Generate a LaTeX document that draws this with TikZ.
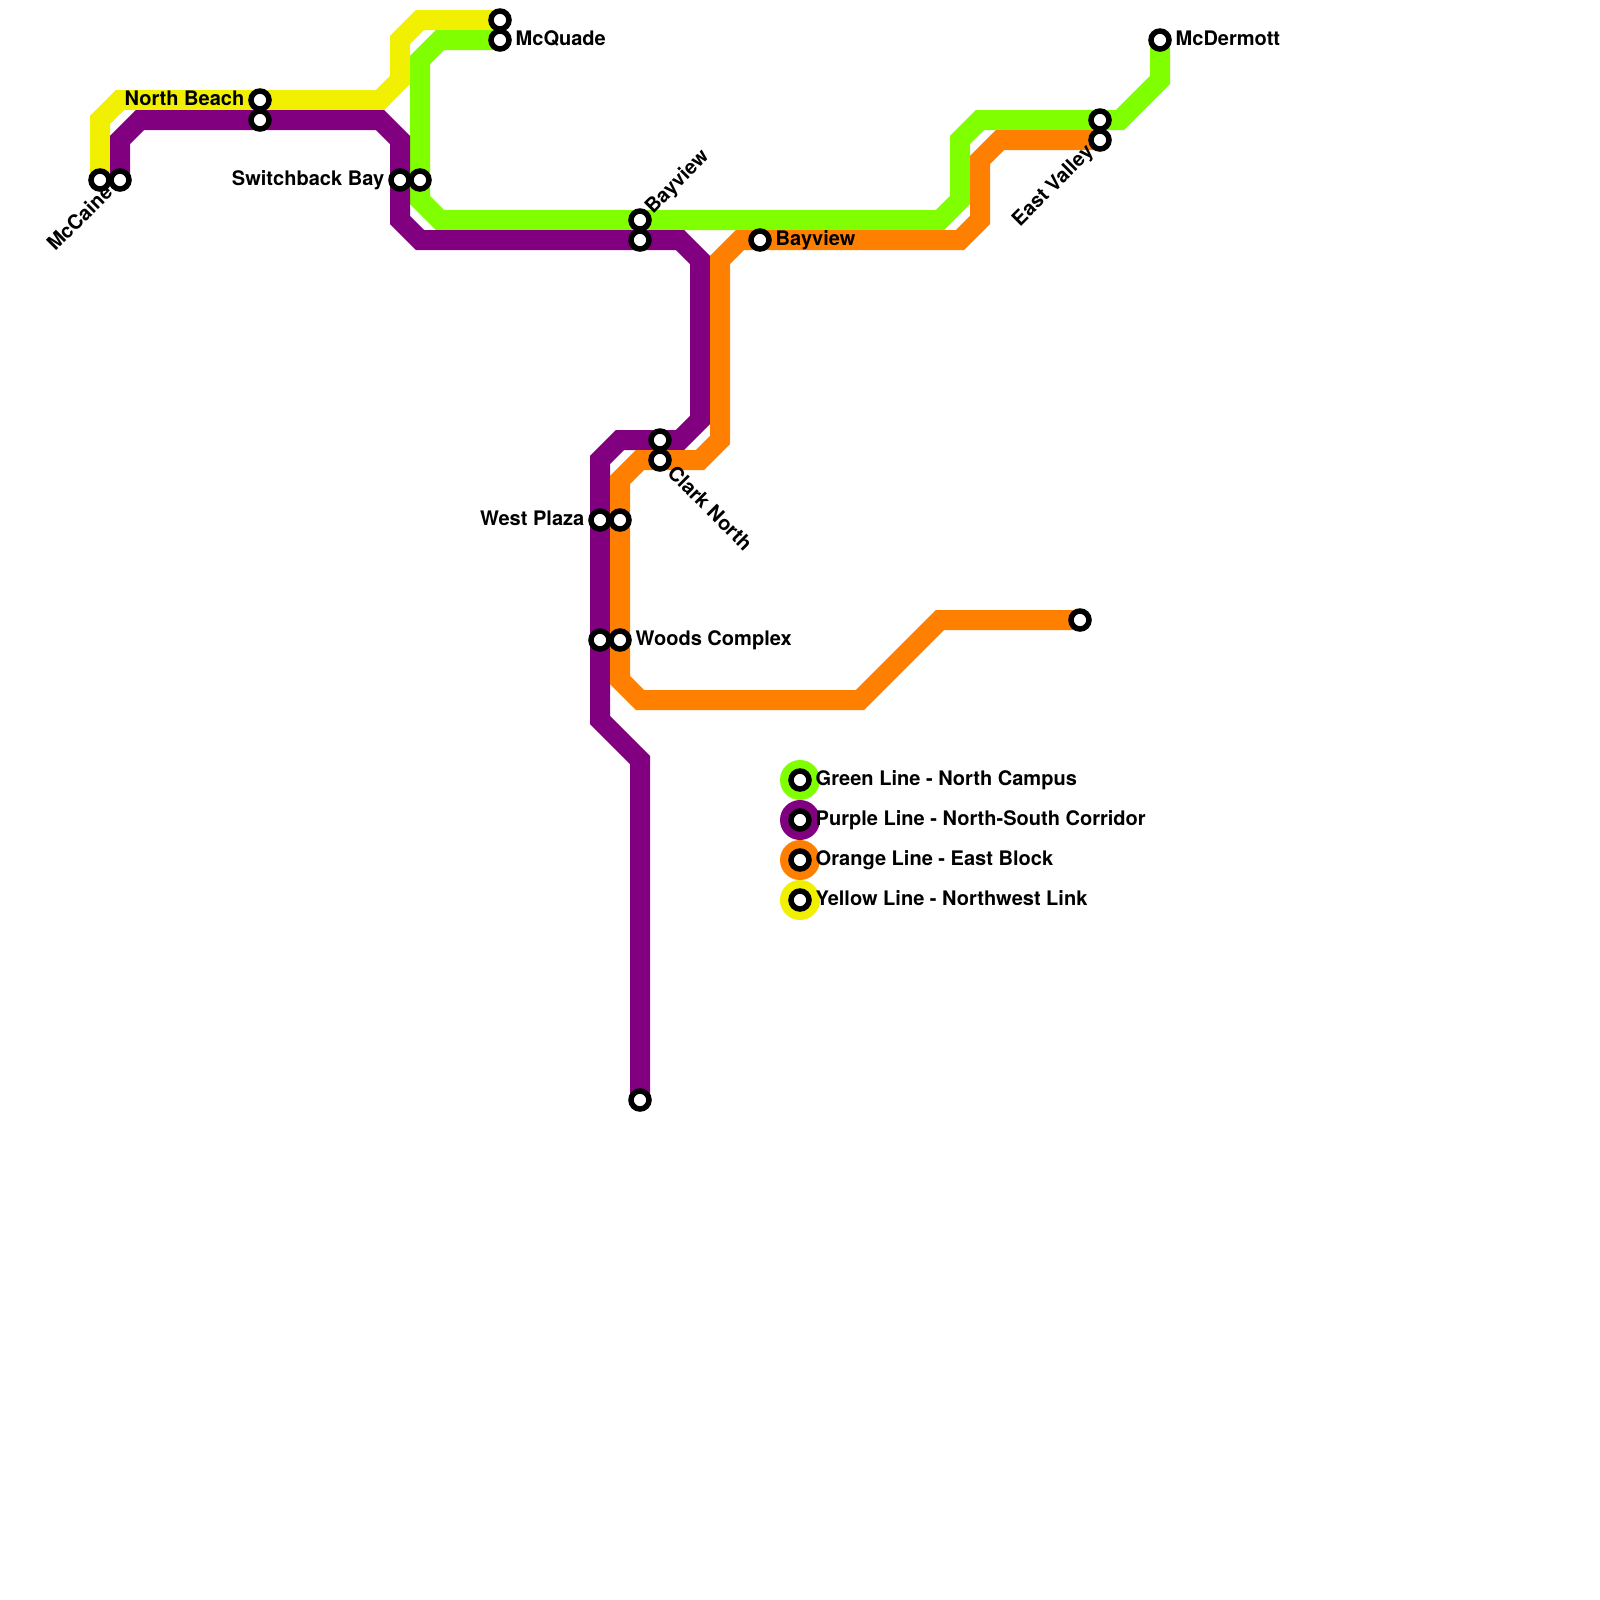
\documentclass[tikz,border=0pt]{standalone}
\usepackage{fontspec}
\setmainfont{TeX Gyre Heros}
\usetikzlibrary{backgrounds}
\definecolor{greenln}{RGB}{128,255,0}
\definecolor{purpleln}{RGB}{128,0,128}
\definecolor{orangeln}{RGB}{255,128,0}
\definecolor{yellowln}{RGB}{240,240,0}
\begin{document}
\begin{tikzpicture}[x=0.2cm, y=-0.2cm,
  stn/.style={circle, draw=black, fill=white, line width=0.055cm, inner sep=0pt, minimum size=0.18cm},
  lbl/.style={inner sep=0pt, font=\fontsize{5.7}{6}\selectfont\bfseries},
  metro/.style={line width=0.2cm},
  swatch/.style={circle, inner sep=0pt, minimum size=0.4cm},]
\useasboundingbox (0,0) rectangle (80,80);
% stations
\node[stn] (mccaineY) at (5, 9) {};
\node[stn] (mccaineP) at (6, 9) {};
\node[stn] (beachY) at (13, 5) {};
\node[stn] (beachP) at (13, 6) {};
\node[stn] (switchP) at (20, 9) {};
\node[stn] (switchG) at (21, 9) {};
\node[stn] (quadeY) at (25, 1) {};
\node[stn] (quadeG) at (25, 2) {};
\node[stn] (bayG) at (32, 11) {};
\node[stn] (bayP) at (32, 12) {};
\node[stn] (bayO) at (38, 12) {};
\node[stn] (clarkP) at (33, 22) {};
\node[stn] (clarkO) at (33, 23) {};
\node[stn] (plazaP) at (30, 26) {};
\node[stn] (plazaO) at (31, 26) {};
\node[stn] (woodsP) at (30, 32) {};
\node[stn] (woodsO) at (31, 32) {};
\node[stn] (southP) at (32, 55) {};
\node[stn] (eastO) at (54, 31) {};
\node[stn] (valleyG) at (55, 6) {};
\node[stn] (valleyO) at (55, 7) {};
\node[stn] (dermottG) at (58, 2) {};
% lines
\begin{pgfonlayer}{background}
\draw[metro, yellowln] (mccaineY.center)--(5,6)--(6,5)--(19,5)--(20,4)--(20,2)--(21,1)--(quadeY.center);
\draw[metro, greenln] (quadeG.center)--(22,2)--(21,3)--(21,10)--(22,11)--(47,11)--(48,10)--(48,7)--(49,6)--(56,6)--(58,4)--(dermottG.center);
\draw[metro, purpleln] (mccaineP.center)--(6,7)--(7,6)--(19,6)--(20,7)--(20,11)--(21,12)--(34,12)--(35,13)--(35,21)--(34,22)--(31,22)--(30,23)--(30,36)--(32,38)--(southP.center);
\draw[metro, orangeln] (valleyO.center)--(50,7)--(49,8)--(49,11)--(48,12)--(37,12)--(36,13)--(36,22)--(35,23)--(32,23)--(31,24)--(31,34)--(32,35)--(43,35)--(47,31)--(eastO.center);
\end{pgfonlayer}
% labels
\node[lbl, anchor=east, rotate=45] (lblcaine) at (5.45, 9.4) {McCaine};
\node[lbl, anchor=base east] (lblbeach) at (12.25, 5.28) {North Beach};
\node[lbl, anchor=base east] (lblswitch) at (19.25, 9.28) {Switchback Bay};
\node[lbl, anchor=base west] (lblquade) at (25.75, 2.28) {McQuade};
\node[lbl, anchor=west, rotate=45] (lblbay) at (32.45, 10.55) {Bayview};
\node[lbl, anchor=base west] (lblbayo) at (38.75, 12.28) {Bayview};
\node[lbl, anchor=west, rotate=-45] (lblclark) at (33.55, 23.43) {Clark North};
\node[lbl, anchor=base east] (lblplaza) at (29.25, 26.28) {West Plaza};
\node[lbl, anchor=base west] (lblwoods) at (31.75, 32.28) {Woods Complex};
\node[lbl, anchor=east, rotate=45] (lblvalley) at (54.55, 7.45) {East Valley};
\node[lbl, anchor=base west] (lbldermott) at (58.75, 2.28) {McDermott};
% legend
\node[swatch, fill=greenln] (swgreen) at (40, 39) {};
\node[swatch, fill=purpleln] (swpurple) at (40, 41) {};
\node[swatch, fill=orangeln] (sworange) at (40, 43) {};
\node[swatch, fill=yellowln] (swyellow) at (40, 45) {};
\node[stn] (kgreen) at (swgreen) {};
\node[stn] (kpurple) at (swpurple) {};
\node[stn] (korange) at (sworange) {};
\node[stn] (kyellow) at (swyellow) {};
\node[lbl, anchor=base west] (tgreen) at (40.75, 39.28) {Green Line - North Campus};
\node[lbl, anchor=base west] (tpurple) at (40.75, 41.28) {Purple Line - North-South Corridor};
\node[lbl, anchor=base west] (torange) at (40.75, 43.28) {Orange Line - East Block};
\node[lbl, anchor=base west] (tyellow) at (40.75, 45.28) {Yellow Line - Northwest Link};
\end{tikzpicture}
\end{document}
